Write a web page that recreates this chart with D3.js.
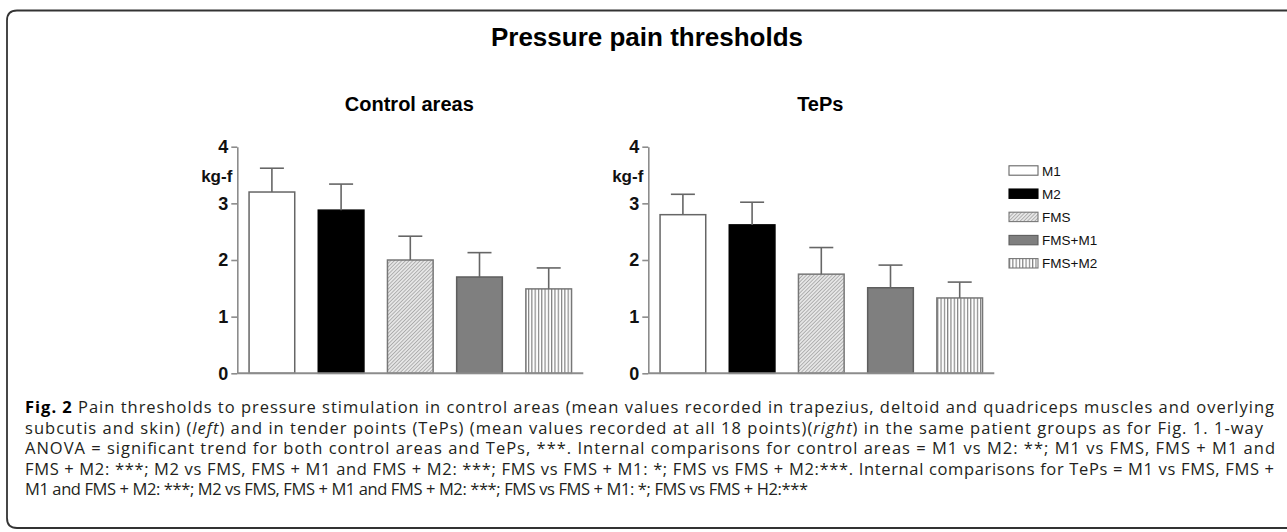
<!DOCTYPE html>
<html>
<head>
<meta charset="utf-8">
<script src="https://cdn.jsdelivr.net/npm/d3@7"></script>
<style>
    html, body { margin: 0; padding: 0; background: #fff; }
    svg { display: block; }
</style>
</head>
<body>
<svg id="chart" width="1287" height="532"></svg>
<script>
const groups = ['M1', 'M2', 'FMS', 'FMS+M1', 'FMS+M2'];
const controlMeans = [3.20, 2.88, 2.00, 1.70, 1.49];
const controlErrors = [0.42, 0.46, 0.42, 0.43, 0.37];
const tepsMeans = [2.80, 2.62, 1.75, 1.51, 1.33];
const tepsErrors = [0.36, 0.40, 0.47, 0.40, 0.28];
const yTicks = [0, 1, 2, 3, 4];

const captionLines = [
    [['Fig. 2', true], [' Pain thresholds to pressure stimulation in control areas (mean values recorded in trapezius, deltoid and quadriceps muscles and overlying', false]],
    [['subcutis and skin) (', false], ['left', 'i'], [') and in tender points (TePs) (mean values recorded at all 18 points)(', false], ['right', 'i'], [') in the same patient groups as for Fig. 1. 1-way', false]],
    [['ANOVA = significant trend for both control areas and TePs, ***. Internal comparisons for control areas = M1 vs M2: **; M1 vs FMS, FMS + M1 and', false]],
    [['FMS + M2: ***; M2 vs FMS, FMS + M1 and FMS + M2: ***; FMS vs FMS + M1: *; FMS vs FMS + M2:***. Internal comparisons for TePs = M1 vs FMS, FMS +', false]],
    [['M1 and FMS + M2: ***; M2 vs FMS, FMS + M1 and FMS + M2: ***; FMS vs FMS + M1: *; FMS vs FMS + H2:***', false]]
];
const captionEnds = [1274, 1263, 1275, 1274, 808];

const chartFont = '"Liberation Sans", Arial, Helvetica, sans-serif';
const axisColor = '#8c8c8c';
const edgeColor = '#666';

const fills = {
    'M1': '#fff',
    'M2': '#000',
    'FMS': 'url(#hatch)',
    'FMS+M1': '#7f7f7f',
    'FMS+M2': 'url(#stripes)'
};
const strokes = {
    'M1': edgeColor,
    'M2': '#000',
    'FMS': '#777',
    'FMS+M1': '#5e5e5e',
    'FMS+M2': '#777'
};

const svg = d3.select('#chart');

// patterns
const defs = svg.append('defs');
const hatch = defs.append('pattern')
    .attr('id', 'hatch')
    .attr('patternUnits', 'userSpaceOnUse')
    .attr('width', 2.6)
    .attr('height', 2.6)
    .attr('patternTransform', 'rotate(45)');
hatch.append('rect').attr('width', 2.6).attr('height', 2.6).attr('fill', '#e6e6e6');
hatch.append('line')
    .attr('x1', 0).attr('y1', 0).attr('x2', 0).attr('y2', 2.6)
    .attr('stroke', '#7e7e7e')
    .attr('stroke-width', 1);

const stripes = defs.append('pattern')
    .attr('id', 'stripes')
    .attr('patternUnits', 'userSpaceOnUse')
    .attr('width', 3.3)
    .attr('height', 10);
stripes.append('rect').attr('width', 3.3).attr('height', 10).attr('fill', '#fff');
stripes.append('line')
    .attr('x1', 0.6).attr('y1', 0).attr('x2', 0.6).attr('y2', 10)
    .attr('stroke', '#7a7a7a')
    .attr('stroke-width', 1.1);

// frame
svg.append('path')
    .attr('d', 'M1300,10.5 H17 Q7,10.5 7,20.5 V518 Q7,528 17,528 H1300')
    .attr('fill', 'none')
    .attr('stroke', '#333')
    .attr('stroke-width', 1.8);

svg.append('text')
    .attr('x', 647)
    .attr('y', 46)
    .attr('text-anchor', 'middle')
    .style('font-family', chartFont)
    .style('font-weight', 'bold')
    .style('font-size', '26px')
    .text('Pressure pain thresholds');

const y = d3.scaleLinear()
    .domain([0, 4])
    .range([373.3, 146.7]);

function drawPanel(title, means, errors, xRange) {
    const x = d3.scaleBand()
        .domain(groups)
        .range(xRange)
        .paddingInner(0.34)
        .paddingOuter(0.17);

    const g = svg.append('g');

    g.append('text')
        .attr('x', x.range()[0] + 172)
        .attr('y', 110.7)
        .attr('text-anchor', 'middle')
        .style('font-family', chartFont)
        .style('font-weight', 'bold')
        .style('font-size', '20px')
        .text(title);

    // bars
    g.selectAll('rect.bar')
        .data(groups)
        .enter()
        .append('rect')
        .attr('class', 'bar')
        .attr('x', d => x(d))
        .attr('width', x.bandwidth())
        .attr('y', (d, i) => y(means[i]))
        .attr('height', (d, i) => y(0) - y(means[i]))
        .attr('fill', d => fills[d])
        .attr('stroke', d => strokes[d])
        .attr('stroke-width', 1.5);

    // upper error bars
    const err = g.selectAll('g.err')
        .data(groups)
        .enter()
        .append('g')
        .attr('class', 'err')
        .attr('stroke', edgeColor)
        .attr('stroke-width', 1.6);

    err.append('line')
        .attr('x1', d => x(d) + x.bandwidth() / 2)
        .attr('x2', d => x(d) + x.bandwidth() / 2)
        .attr('y1', (d, i) => y(means[i]))
        .attr('y2', (d, i) => y(means[i] + errors[i]));

    err.append('line')
        .attr('x1', d => x(d) + x.bandwidth() / 2 - 12)
        .attr('x2', d => x(d) + x.bandwidth() / 2 + 12)
        .attr('y1', (d, i) => y(means[i] + errors[i]))
        .attr('y2', (d, i) => y(means[i] + errors[i]));

    // axes
    const yAxis = d3.axisLeft(y)
        .tickValues(yTicks)
        .tickSize(6)
        .tickSizeOuter(0)
        .tickPadding(3)
        .tickFormat(d3.format('d'));

    const axisG = g.append('g')
        .attr('transform', `translate(${xRange[0]},0)`)
        .call(yAxis);

    axisG.select('.domain').attr('stroke', axisColor).attr('stroke-width', 1.6);
    axisG.selectAll('.tick line').attr('stroke', axisColor).attr('stroke-width', 1.6);
    axisG.selectAll('.tick text')
        .attr('fill', '#111')
        .style('font-family', chartFont)
        .style('font-weight', 'bold')
        .style('font-size', '18px');

    g.append('line')
        .attr('x1', xRange[0])
        .attr('x2', xRange[1])
        .attr('y1', y(0))
        .attr('y2', y(0))
        .attr('stroke', axisColor)
        .attr('stroke-width', 2);

    g.append('text')
        .attr('x', xRange[0] - 5)
        .attr('y', 181.5)
        .attr('text-anchor', 'end')
        .attr('fill', '#111')
        .style('font-family', chartFont)
        .style('font-weight', 'bold')
        .style('font-size', '17px')
        .text('kg-f');
}

drawPanel('Control areas', controlMeans, controlErrors, [237.3, 583.3]);
drawPanel('TePs', tepsMeans, tepsErrors, [648.3, 994.3]);

// legend
const legend = svg.append('g')
    .attr('transform', 'translate(1009,170.5)');

const legendItem = legend.selectAll('g')
    .data(groups)
    .enter()
    .append('g')
    .attr('transform', (d, i) => `translate(0,${i * 23.2})`);

legendItem.append('rect')
    .attr('x', 0)
    .attr('y', -4.7)
    .attr('width', 29)
    .attr('height', 9.4)
    .attr('fill', d => fills[d])
    .attr('stroke', d => strokes[d])
    .attr('stroke-width', 1.1);

legendItem.append('text')
    .attr('x', 33)
    .attr('y', 5)
    .attr('fill', '#111')
    .style('font-family', chartFont)
    .style('font-size', '13.5px')
    .text(d => d);

// caption
const caption = svg.append('g')
    .style('font-family', '"Open Sans", "Noto Sans", sans-serif')
    .style('font-size', '16.5px')
    .attr('fill', '#231f20');

captionLines.forEach((parts, i) => {
    const t = caption.append('text')
        .attr('x', 25)
        .attr('y', 413 + i * 20.6)
        .attr('textLength', captionEnds[i] - 25)
        .attr('lengthAdjust', 'spacing');
    parts.forEach(([s, style]) => {
        const span = t.append('tspan').text(s);
        if (style === true) span.style('font-weight', 'bold').attr('fill', '#000');
        if (style === 'i') span.style('font-style', 'italic');
    });
});
</script>
</body>
</html>
